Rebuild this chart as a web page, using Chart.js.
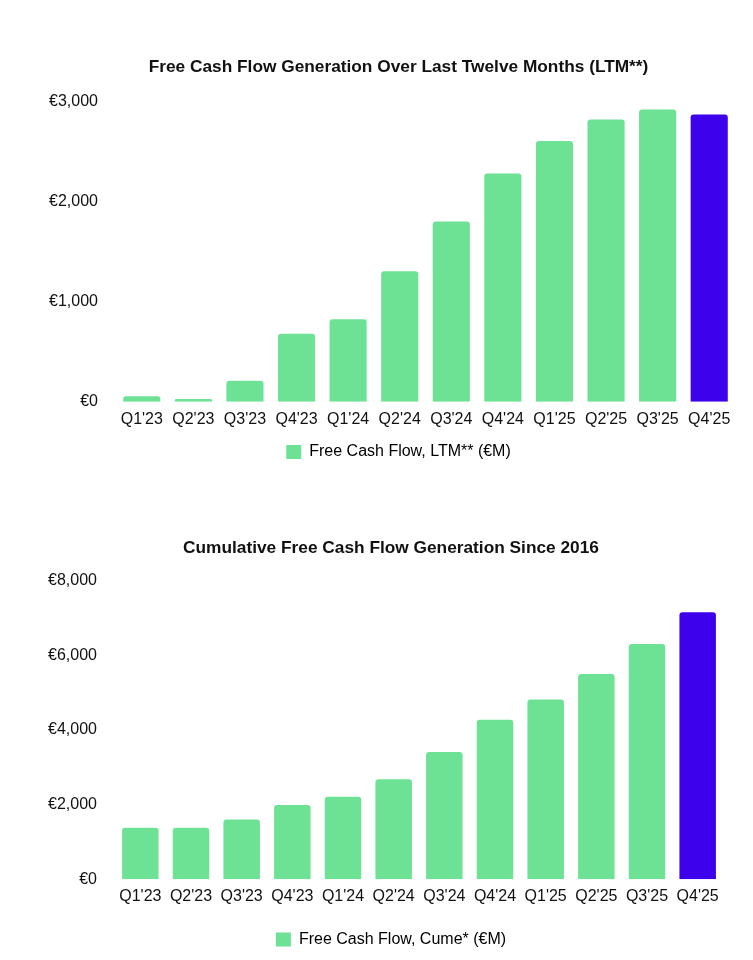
<!DOCTYPE html>
<html>
<head>
<meta charset="utf-8">
<script src="https://cdn.jsdelivr.net/npm/chart.js@4.4.1/dist/chart.umd.min.js"></script>
<style>
	html, body { margin: 0; padding: 0; background: #fff; overflow: hidden; }
	.box { position: absolute; left: 0; width: 753px; height: 480px; }
	#top { top: 0; }
	#bottom { top: 480px; }
</style>
</head>
<body>
<div class="box" id="top"><canvas id="ltm"></canvas></div>
<div class="box" id="bottom"><canvas id="cume"></canvas></div>
<script>
const QUARTERS = ["Q1'23", "Q2'23", "Q3'23", "Q4'23", "Q1'24", "Q2'24", "Q3'24", "Q4'24", "Q1'25", "Q2'25", "Q3'25", "Q4'25"]
const LTM_FCF = [55, 28, 210, 680, 825, 1305, 1805, 2285, 2610, 2825, 2925, 2875]
const CUME_FCF = [1380, 1380, 1605, 1990, 2210, 2685, 3415, 4275, 4820, 5505, 6310, 7160]
const LTM_TICKS = [0, 1000, 2000, 3000]
const CUME_TICKS = [0, 2000, 4000, 6000, 8000]

const GREEN = '#6de295'
const PURPLE = '#3d02eb'
const FONT = 'Liberation Sans, Arial, sans-serif'

Chart.defaults.font.family = FONT
Chart.defaults.animation = false

// last quarter is highlighted
function barColors(values) {
	return values.map((v, i) => i === values.length - 1 ? PURPLE : GREEN)
}

function euro(v) {
	return '€' + Number(v).toLocaleString('en-US')
}

// opts.padLeft shifts title + legend centre; opts.area is where the plot starts
function makeChart(id, title, label, values, ticks, opts) {
	return new Chart(document.getElementById(id), {
		type: 'bar',
		data: {
			labels: QUARTERS,
			datasets: [{
				label: label,
				data: values,
				backgroundColor: barColors(values),
				borderRadius: 3,
				borderSkipped: 'start'
			}]
		},
		options: {
			responsive: true,
			maintainAspectRatio: false,
			layout: { padding: { left: opts.padLeft, right: opts.right, top: 0, bottom: opts.bottom } },
			plugins: {
				title: {
					display: true,
					text: title,
					color: '#111',
					font: { size: 17.3, weight: 'bold' },
					padding: { top: opts.titleTop, bottom: opts.titleBottom }
				},
				legend: {
					position: 'bottom',
					labels: {
						color: '#333',
						font: { size: 16 },
						boxWidth: 15,
						boxHeight: 14,
						padding: opts.legendPad,
						generateLabels: function(chart) {
							return [{ text: label, fillStyle: GREEN, strokeStyle: GREEN, lineWidth: 0, datasetIndex: 0 }]
						}
					}
				},
				tooltip: { enabled: false }
			},
			scales: {
				x: {
					grid: { display: false, drawTicks: false },
					border: { display: false },
					ticks: { color: '#111', font: { size: 16 }, padding: 8, maxRotation: 0 }
				},
				y: {
					min: 0,
					max: ticks[ticks.length - 1],
					grid: { display: false, drawTicks: false },
					border: { display: false },
					afterBuildTicks: function(axis) {
						axis.ticks = ticks.map(v => ({ value: v }))
					},
					afterFit: function(axis) {
						axis.width = opts.area - opts.padLeft
						// labels are wider than the narrowed axis box, don't clip them
						axis._computeLabelArea = function() {}
					},
					ticks: { color: '#111', font: { size: 16 }, padding: 18, callback: euro }
				}
			}
		}
	})
}

makeChart('ltm', 'Free Cash Flow Generation Over Last Twelve Months (LTM**)', 'Free Cash Flow, LTM** (€M)',
	LTM_FCF, LTM_TICKS, { padLeft: 62, area: 116, right: 18, bottom: 10, titleTop: 57.2, titleBottom: 24, legendPad: 7 })

makeChart('cume', 'Cumulative Free Cash Flow Generation Since 2016', 'Free Cash Flow, Cume* (€M)',
	CUME_FCF, CUME_TICKS, { padLeft: 59, area: 115, right: 30, bottom: 2.5, titleTop: 57.7, titleBottom: 22.4, legendPad: 17 })
</script>
</body>
</html>
